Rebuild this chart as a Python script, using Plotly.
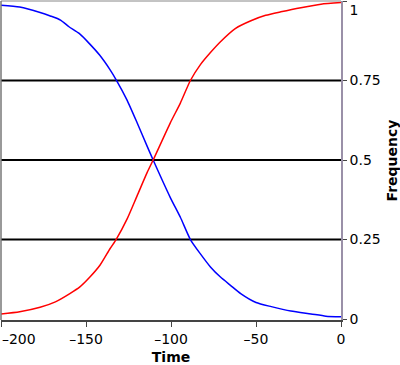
import plotly.graph_objects as go

# Data
blue_x = [-200, -189, -177, -171, -165, -160, -154, -148, -142, -136, -132, -126, -120, -114, -110.5,
          -100.4, -94.5, -88.6, -82.7, -76.8, -70.9, -65, -59, -50, -41, -29.5, -17.7, -8.9, 0]
blue_y = [0.987, 0.981, 0.964, 0.953, 0.940, 0.919, 0.898, 0.866, 0.830, 0.785, 0.75, 0.690, 0.618, 0.543, 0.5,
          0.382, 0.320, 0.25, 0.205, 0.164, 0.132, 0.106, 0.080, 0.052, 0.039, 0.025, 0.016, 0.009, 0.007]

red_x = [-200, -189, -177, -168, -159.5, -153.6, -147.7, -141.8, -135.9, -132.3, -125.8, -119.9, -114, -110.5,
         -100.4, -94.5, -88.6, -82.7, -76.8, -70.9, -62, -53, -44.3, -35.4, -23.6, -11.8, 0]
red_y = [0.016, 0.023, 0.037, 0.054, 0.080, 0.101, 0.132, 0.169, 0.221, 0.25, 0.315, 0.388, 0.461, 0.5,
         0.617, 0.679, 0.75, 0.80, 0.838, 0.872, 0.914, 0.938, 0.955, 0.966, 0.979, 0.990, 0.995]

ref_levels = [0.25, 0.5, 0.75]
x_ticks = [-200, -150, -100, -50, 0]
x_ticktext = ["\u00a0" * 8 + "\u2013200", "\u2013150", "\u2013100", "\u201350", "0"]
y_ticks = [0, 0.25, 0.5, 0.75, 1]
y_ticktext = ["0", "0.25", "0.5", "0.75", "<br>1"]

FONT = "DejaVu Sans"

fig = go.Figure()
fig.add_trace(go.Scatter(x=blue_x, y=blue_y, mode="lines",
                         line=dict(color="#0000ff", width=1.5, shape="spline", smoothing=0.6),
                         showlegend=False))
fig.add_trace(go.Scatter(x=red_x, y=red_y, mode="lines",
                         line=dict(color="#ff0000", width=1.5, shape="spline", smoothing=0.6),
                         showlegend=False))

shapes = []
for lv in ref_levels:
    shapes.append(dict(type="line", xref="paper", yref="y", x0=0, x1=1, y0=lv, y1=lv,
                       line=dict(color="#000000", width=2), layer="below"))
# frame: top and left borders
shapes.append(dict(type="line", xref="paper", yref="paper", x0=0, x1=1, y0=1, y1=1,
                   line=dict(color="#888888", width=1)))
shapes.append(dict(type="line", xref="paper", yref="paper", x0=0, x1=0, y0=0, y1=1,
                   line=dict(color="#777777", width=1.5)))

fig.update_layout(
    width=400, height=365,
    margin=dict(l=1, r=59, t=1, b=45, autoexpand=False),
    paper_bgcolor="white", plot_bgcolor="white",
    font=dict(family=FONT, size=14, color="#000000"),
    shapes=shapes,
    xaxis=dict(
        range=[-200, 0], automargin=False,
        tickmode="array", tickvals=x_ticks, ticktext=x_ticktext,
        ticks="outside", ticklen=5, tickcolor="#444444",
        showline=True, linecolor="#444444", linewidth=1.5,
        showgrid=False, zeroline=False, ticklabeloverflow="allow",
        title=dict(text="<b>Time</b>", font=dict(family=FONT, size=14), standoff=8),
        tickfont=dict(size=14),
    ),
    yaxis=dict(
        side="right",
        range=[-0.003, 1.0], automargin=False,
        tickmode="array", tickvals=y_ticks, ticktext=y_ticktext,
        ticks="outside", ticklen=4, tickcolor="#444444",
        showline=True, linecolor="#9a90a8", linewidth=1.5,
        showgrid=False, zeroline=False, ticklabeloverflow="allow",
        title=dict(text="<b>Frequency</b>", font=dict(family=FONT, size=14), standoff=10),
        tickfont=dict(size=14),
    ),
)

fig.write_html("out.html", config={"displayModeBar": False},
               post_script="document.body.style.margin='0';")
